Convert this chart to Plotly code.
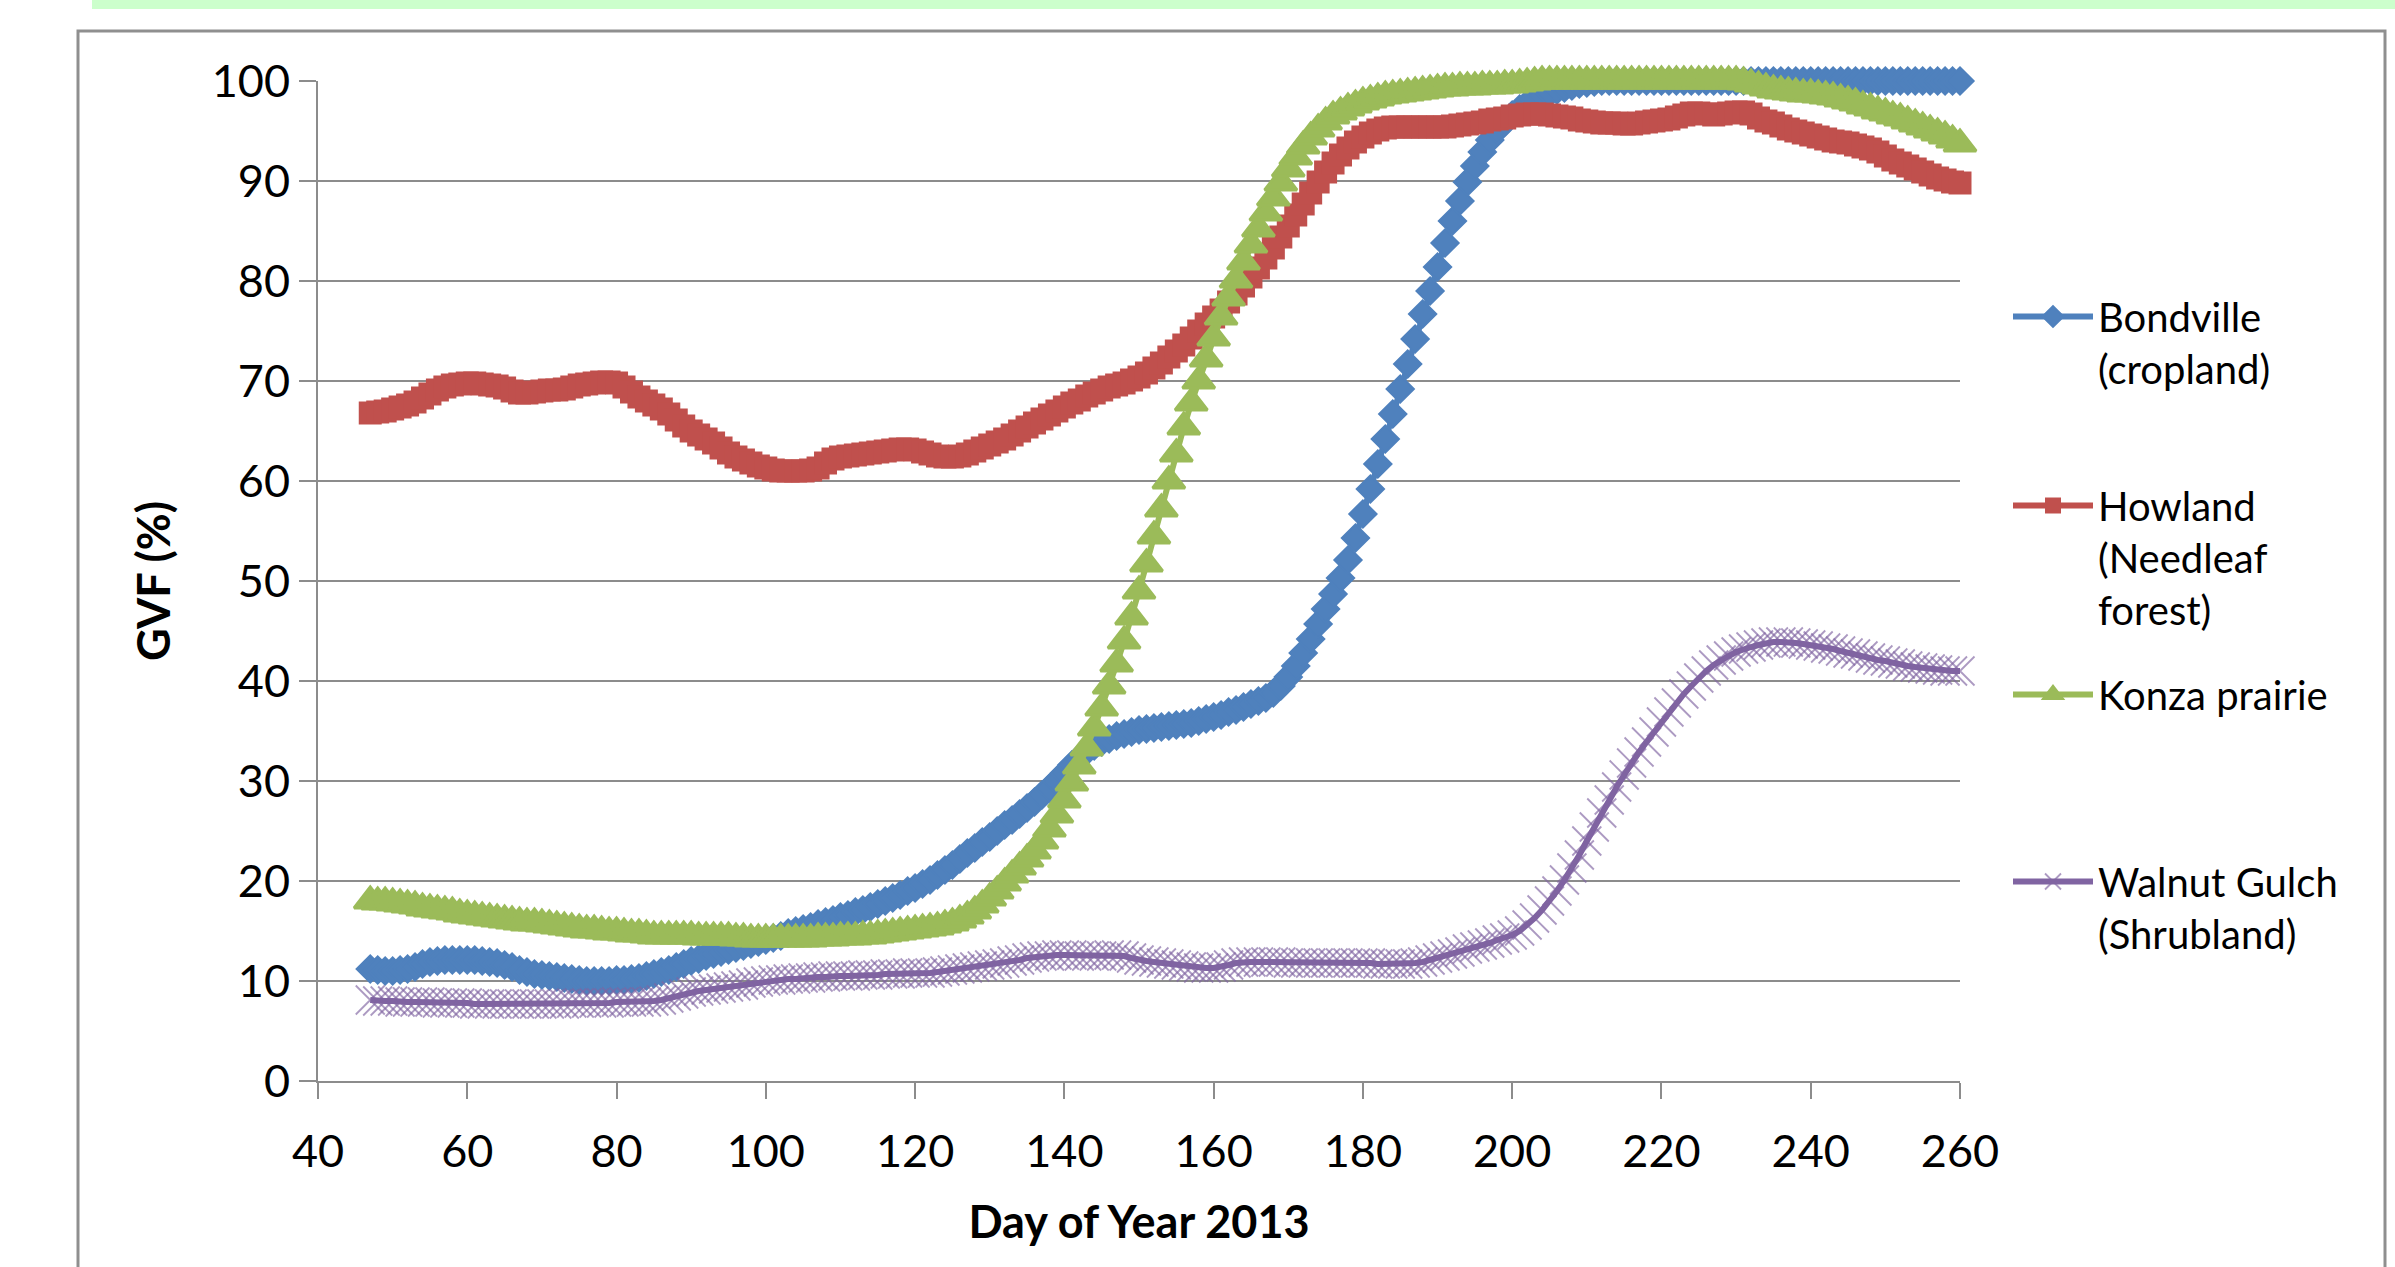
import plotly.graph_objects as go

# ---------------- data ----------------
days = list(range(47, 261))

bondville = [
    11.2, 11.1, 11.0, 11.0, 11.1, 11.2, 11.4, 11.7, 11.9, 12.0,
    12.1, 12.1, 12.1, 12.1, 12.1, 12.0, 11.9, 11.8, 11.6, 11.4,
    11.1, 10.9, 10.7, 10.6, 10.5, 10.4, 10.3, 10.2, 10.1, 10.0,
    10.0, 10.0, 10.0, 10.1, 10.1, 10.2, 10.3, 10.5, 10.7, 10.9,
    11.1, 11.4, 11.7, 12.0, 12.2, 12.5, 12.7, 12.9, 13.1, 13.3,
    13.5, 13.7, 13.9, 14.1, 14.3, 14.5, 14.8, 15.0, 15.2, 15.4,
    15.7, 15.9, 16.1, 16.4, 16.6, 16.9, 17.1, 17.4, 17.7, 18.0,
    18.3, 18.6, 19.0, 19.3, 19.7, 20.1, 20.6, 21.1, 21.6, 22.2,
    22.8, 23.3, 23.9, 24.4, 25.0, 25.6, 26.1, 26.7, 27.3, 27.9,
    28.6, 29.3, 30.0, 30.8, 31.6, 32.3, 33.0, 33.5, 33.9, 34.2,
    34.5, 34.7, 34.9, 35.1, 35.2, 35.3, 35.4, 35.5, 35.6, 35.7,
    35.8, 36.0, 36.2, 36.4, 36.6, 36.9, 37.1, 37.4, 37.7, 38.0,
    38.3, 38.8, 39.5, 40.4, 41.5, 42.8, 44.2, 45.7, 47.2, 48.7,
    50.3, 52.1, 54.3, 56.7, 59.2, 61.7, 64.2, 66.7, 69.2, 71.7,
    74.2, 76.7, 79.0, 81.4, 83.8, 86.0, 88.0, 89.9, 91.5, 92.9,
    94.1, 95.1, 95.9, 96.6, 97.2, 97.7, 98.1, 98.5, 98.8, 99.1,
    99.3, 99.5, 99.7, 99.8, 99.9, 100, 100, 100, 100, 100,
    100, 100, 100, 100, 100, 100, 100, 100, 100, 100,
    100, 100, 100, 100, 100, 100, 100, 100, 100, 100,
    100, 100, 100, 100, 100, 100, 100, 100, 100, 100,
    100, 100, 100, 100, 100, 100, 100, 100, 100, 100,
    100, 100, 100, 100,
]

howland = [
    66.8, 66.9, 67.0, 67.2, 67.4, 67.6, 67.9, 68.3, 68.7, 69.1,
    69.4, 69.6, 69.7, 69.8, 69.8, 69.7, 69.6, 69.5, 69.3, 69.0,
    68.8, 68.8, 68.9, 69.0, 69.1, 69.1, 69.2, 69.4, 69.6, 69.7,
    69.8, 69.9, 69.9, 69.8, 69.4, 68.9, 68.4, 68.0, 67.6, 67.2,
    66.7, 66.1, 65.5, 65.0, 64.6, 64.2, 63.8, 63.3, 62.8, 62.4,
    62.1, 61.8, 61.5, 61.3, 61.1, 61.0, 61.0, 61.0, 61.0, 61.1,
    61.3, 61.8, 62.2, 62.4, 62.5, 62.6, 62.7, 62.8, 62.9, 63.0,
    63.1, 63.2, 63.2, 63.1, 62.9, 62.7, 62.5, 62.4, 62.4, 62.5,
    62.7, 63.0, 63.3, 63.6, 63.9, 64.2, 64.6, 65.0, 65.4, 65.8,
    66.2, 66.6, 67.0, 67.4, 67.8, 68.1, 68.5, 68.8, 69.1, 69.4,
    69.6, 69.8, 70.1, 70.4, 70.8, 71.3, 71.8, 72.4, 73.0, 73.6,
    74.3, 75.0, 75.7, 76.4, 77.1, 77.9, 78.7, 79.5, 80.4, 81.3,
    82.3, 83.3, 84.4, 85.5, 86.6, 87.7, 88.8, 89.9, 90.9, 91.8,
    92.6, 93.3, 93.9, 94.4, 94.8, 95.1, 95.3, 95.4, 95.4, 95.4,
    95.4, 95.4, 95.4, 95.4, 95.4, 95.5, 95.6, 95.7, 95.8, 95.9,
    96.1, 96.2, 96.3, 96.5, 96.6, 96.7, 96.7, 96.7, 96.6, 96.5,
    96.4, 96.3, 96.1, 96.0, 95.9, 95.8, 95.8, 95.8, 95.7, 95.7,
    95.8, 95.9, 96.0, 96.1, 96.2, 96.4, 96.6, 96.8, 96.8, 96.7,
    96.6, 96.7, 96.8, 96.9, 96.9, 96.7, 96.3, 96.0, 95.8, 95.5,
    95.2, 95.0, 94.8, 94.6, 94.4, 94.2, 94.0, 93.9, 93.8, 93.6,
    93.4, 93.2, 92.9, 92.5, 92.1, 91.8, 91.5, 91.2, 90.9, 90.6,
    90.3, 90.1, 89.9, 89.8,
]

konza = [
    18.0, 17.9, 17.9, 17.8, 17.7, 17.6, 17.5, 17.3, 17.2, 17.1,
    17.0, 16.9, 16.7, 16.6, 16.5, 16.4, 16.3, 16.2, 16.1, 16.0,
    15.9, 15.8, 15.8, 15.7, 15.6, 15.5, 15.4, 15.3, 15.2, 15.1,
    15.1, 15.0, 14.9, 14.9, 14.8, 14.7, 14.7, 14.6, 14.5, 14.5,
    14.5, 14.5, 14.5, 14.5, 14.4, 14.4, 14.4, 14.4, 14.4, 14.3,
    14.3, 14.2, 14.2, 14.2, 14.2, 14.2, 14.2, 14.2, 14.2, 14.2,
    14.3, 14.3, 14.3, 14.4, 14.4, 14.4, 14.5, 14.5, 14.6, 14.7,
    14.8, 14.9, 15.0, 15.1, 15.2, 15.3, 15.4, 15.6, 15.8, 16.1,
    16.5, 17.0, 17.6, 18.3, 19.0, 19.8, 20.6, 21.4, 22.2, 23.0,
    24.0, 25.2, 26.6, 28.1, 29.8, 31.5, 33.3, 35.3, 37.3, 39.5,
    41.7, 44.0, 46.4, 49.0, 51.7, 54.5, 57.2, 60.0, 62.7, 65.4,
    67.8, 70.0, 72.2, 74.3, 76.4, 78.3, 80.1, 81.9, 83.6, 85.2,
    86.8, 88.3, 89.8, 91.2, 92.4, 93.5, 94.4, 95.2, 95.9, 96.5,
    96.9, 97.3, 97.6, 97.9, 98.1, 98.3, 98.5, 98.6, 98.7, 98.8,
    98.9, 99.0, 99.1, 99.2, 99.3, 99.3, 99.4, 99.4, 99.4, 99.5,
    99.5, 99.5, 99.6, 99.6, 99.7, 99.8, 99.9, 100, 100, 100,
    100, 100, 100, 100, 100, 100, 100, 100, 100, 100,
    100, 100, 100, 100, 100, 100, 100, 100, 100, 100,
    100, 100, 100, 100, 99.9, 99.7, 99.5, 99.3, 99.1, 99.0,
    98.9, 98.8, 98.7, 98.7, 98.6, 98.5, 98.4, 98.2, 98.0, 97.8,
    97.5, 97.3, 97.0, 96.8, 96.5, 96.3, 96.0, 95.7, 95.4, 95.1,
    94.8, 94.5, 94.1, 93.7,
]

walnut = [
    8.1, 8.0, 8.0, 8.0, 7.9, 7.9, 7.9, 7.9, 7.9, 7.8,
    7.8, 7.8, 7.8, 7.8, 7.7, 7.7, 7.7, 7.7, 7.7, 7.7,
    7.7, 7.7, 7.7, 7.7, 7.7, 7.7, 7.7, 7.8, 7.8, 7.8,
    7.8, 7.8, 7.8, 7.9, 7.9, 7.9, 7.9, 7.9, 8.0, 8.1,
    8.3, 8.5, 8.7, 8.9, 9.0, 9.1, 9.2, 9.3, 9.4, 9.5,
    9.6, 9.8, 9.9, 10.0, 10.1, 10.1, 10.2, 10.2, 10.3, 10.3,
    10.4, 10.4, 10.5, 10.5, 10.5, 10.5, 10.6, 10.6, 10.6, 10.7,
    10.7, 10.7, 10.8, 10.8, 10.8, 10.8, 10.9, 11.0, 11.1, 11.2,
    11.3, 11.4, 11.5, 11.6, 11.7, 11.8, 12.0, 12.1, 12.3, 12.4,
    12.5, 12.5, 12.6, 12.6, 12.6, 12.5, 12.5, 12.5, 12.5, 12.6,
    12.6, 12.5, 12.3, 12.1, 12.0, 11.9, 11.8, 11.7, 11.6, 11.5,
    11.4, 11.3, 11.3, 11.3, 11.4, 11.6, 11.8, 11.9, 11.9, 11.9,
    11.9, 11.9, 11.9, 11.8, 11.8, 11.8, 11.8, 11.8, 11.8, 11.8,
    11.8, 11.8, 11.8, 11.8, 11.8, 11.7, 11.7, 11.7, 11.7, 11.7,
    11.8, 11.9, 12.1, 12.3, 12.5, 12.7, 12.9, 13.2, 13.4, 13.6,
    13.8, 14.1, 14.3, 14.6, 15.0, 15.6, 16.3, 17.1, 18.0, 19.0,
    20.1, 21.3, 22.6, 24.0, 25.4, 26.8, 28.1, 29.4, 30.6, 31.8,
    32.9, 33.9, 34.9, 35.9, 36.9, 37.8, 38.7, 39.5, 40.3, 41.0,
    41.6, 42.1, 42.5, 42.9, 43.2, 43.4, 43.6, 43.8, 43.9, 43.9,
    43.9, 43.8, 43.7, 43.6, 43.5, 43.3, 43.2, 43.0, 42.8, 42.7,
    42.5, 42.3, 42.1, 42.0, 41.8, 41.7, 41.5, 41.4, 41.3, 41.2,
    41.1, 41.0, 41.0, 41.0,
]

series_names = [
    "Bondville<br>(cropland)",
    "Howland<br>(Needleaf<br>forest)",
    "Konza prairie",
    "Walnut Gulch<br>(Shrubland)",
]
x_tick_vals = [40, 60, 80, 100, 120, 140, 160, 180, 200, 220, 240, 260]
x_tick_text = ["40", "60", "80", "100", "120", "140", "160", "180", "200", "220", "240", "260"]
y_tick_vals = [0, 10, 20, 30, 40, 50, 60, 70, 80, 90, 100]
y_tick_text = ["0", "10", "20", "30", "40", "50", "60", "70", "80", "90", "100"]
x_title = "Day of Year 2013"
y_title = "GVF (%)"

for s in (bondville, howland, konza, walnut):
    assert len(s) == len(days), len(s)

# ---------------- layout geometry (pixels) ----------------
W, H = 2395, 1267
PL, PR, PT, PB = 318, 1960, 81, 1081   # plot area edges


def px(X):
    return (X - PL) / (PR - PL)


def py(Y):
    return (PB - Y) / (PB - PT)


GRID = "#8c8c8c"
FONT = "Lato"

fig = go.Figure()

styles = [
    dict(color="#4F81BD", symbol="diamond", size=21, lw=2, legend="legend"),
    dict(color="#C0504D", symbol="square", size=23, lw=0, legend="legend2"),
    dict(color="#9BBB59", symbol="triangle-up", size=28, lw=3, legend="legend3"),
    dict(color="#8064A2", symbol="x-thin", size=29, lw=1.8, legend="legend4"),
]
values = [bondville, howland, konza, walnut]

for name, vals, st in zip(series_names, values, styles):
    if st["symbol"] == "x-thin":
        marker = dict(symbol="x-thin", size=st["size"],
                      line=dict(color="rgba(128,100,162,0.65)", width=st["lw"]),
                      color=st["color"])
    else:
        marker = dict(symbol=st["symbol"], size=st["size"], color=st["color"],
                      line=dict(width=st["lw"], color=st["color"]))
    fig.add_trace(go.Scatter(
        x=days, y=vals, name=name, mode="lines+markers",
        line=dict(color=st["color"], width=6),
        marker=marker, cliponaxis=False, legend=st["legend"],
    ))

legend_common = dict(
    xanchor="left", yanchor="top", bgcolor="rgba(0,0,0,0)", borderwidth=0,
    font=dict(family=FONT, size=40, color="#000000"), itemwidth=80,
    valign="top", tracegroupgap=0,
)
leg_x = px(2008)
legend_tops = [317, 506, 695, 882]
legends = {}
for i, key in enumerate(["legend", "legend2", "legend3", "legend4"]):
    legends[key] = dict(legend_common, x=leg_x, y=py(legend_tops[i] - 33))

fig.update_layout(
    width=W, height=H, autosize=False,
    margin=dict(l=PL, r=W - PR, t=PT, b=H - PB, pad=0),
    paper_bgcolor="white", plot_bgcolor="white",
    showlegend=True,
    font=dict(family=FONT, color="#000000"),
    **legends,
)

fig.update_xaxes(
    range=[40, 260], tickmode="array", tickvals=x_tick_vals, ticktext=x_tick_text,
    showgrid=False, zeroline=False, showline=True, linecolor=GRID, linewidth=2,
    ticks="outside", ticklen=16, tickwidth=2, tickcolor=GRID,
    tickfont=dict(family=FONT, size=45, color="#000000"), ticklabelstandoff=14,
    title=dict(text=x_title, font=dict(family=FONT, size=45, color="#000000", weight="bold"),
               standoff=30),
    automargin=False,
)
fig.update_yaxes(
    range=[0, 100], tickmode="array", tickvals=y_tick_vals, ticktext=y_tick_text,
    showgrid=True, gridcolor=GRID, gridwidth=2, zeroline=False,
    showline=True, linecolor=GRID, linewidth=2,
    ticks="outside", ticklen=17, tickwidth=2, tickcolor=GRID,
    tickfont=dict(family=FONT, size=45, color="#000000"),
    title=dict(text=y_title, font=dict(family=FONT, size=45, color="#000000", weight="bold"),
               standoff=27),
    automargin=False,
)

# chart frame and top band
fig.add_shape(type="rect", xref="paper", yref="paper",
              x0=px(78), x1=px(2385), y0=py(1300), y1=py(31),
              line=dict(color="#8f8f8f", width=3), fillcolor="rgba(0,0,0,0)", layer="above")
fig.add_shape(type="rect", xref="paper", yref="paper",
              x0=px(92), x1=px(2400), y0=py(9), y1=py(-5),
              line=dict(width=0), fillcolor="#ccffcc", layer="above")

fig.write_html("out.html", config={"displayModeBar": False},
               post_script="document.body.style.margin='0px';")
